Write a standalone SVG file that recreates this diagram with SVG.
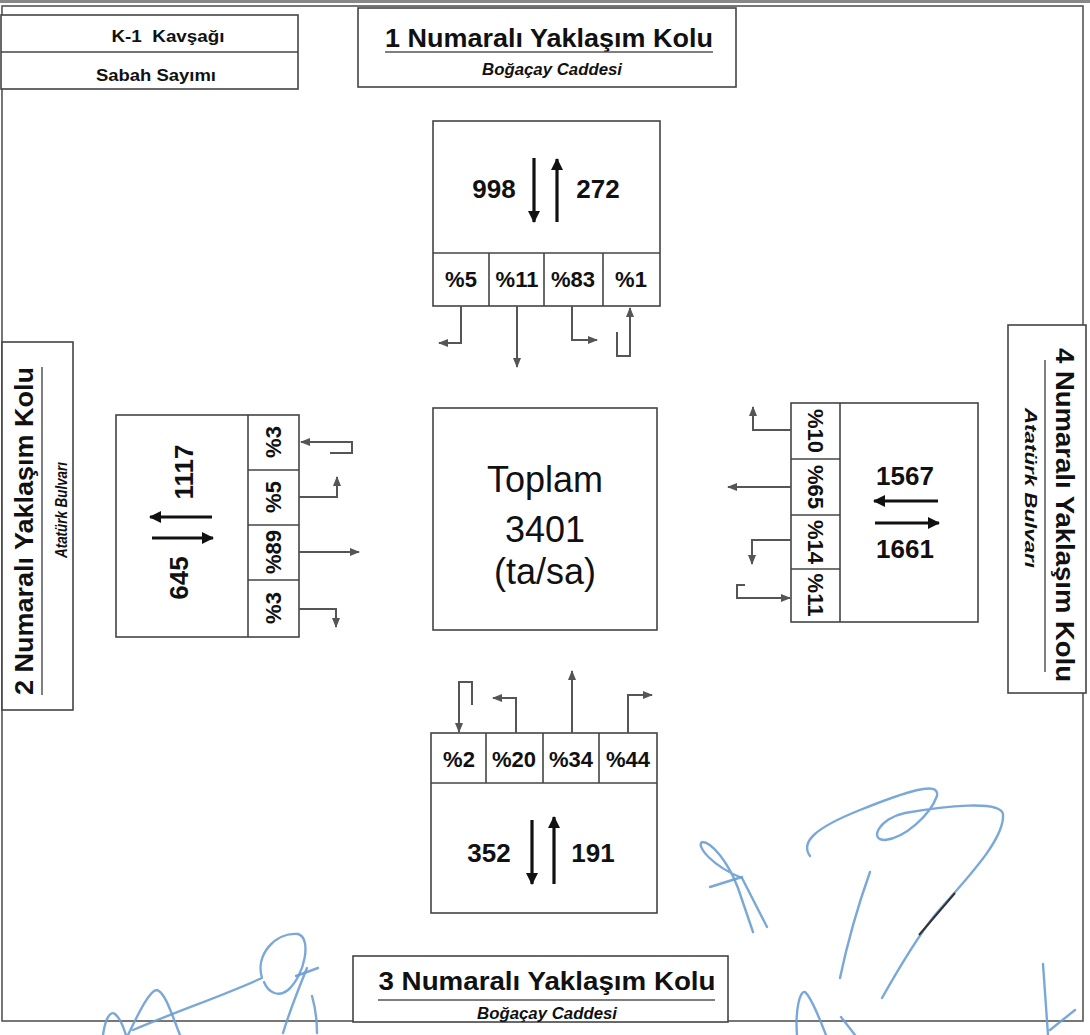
<svg xmlns="http://www.w3.org/2000/svg" width="1090" height="1035" viewBox="0 0 1090 1035">
<defs>
<style>
.box{fill:#fff;stroke:#444;stroke-width:1.6}
.frame{fill:none;stroke:#555;stroke-width:1.6}
.ttl{font-family:"Liberation Sans",Arial,sans-serif;font-weight:700;font-size:25px;fill:#111}
.sub{font-family:"Liberation Sans",Arial,sans-serif;font-weight:700;font-style:italic;font-size:17px;fill:#111}
.hdr{font-family:"Liberation Sans",Arial,sans-serif;font-weight:700;font-size:16px;fill:#111}
.pct{font-family:"Liberation Sans",Arial,sans-serif;font-weight:700;font-size:22px;fill:#111}
.num{font-family:"Liberation Sans",Arial,sans-serif;font-weight:700;font-size:26px;fill:#111}
.big{font-family:"Liberation Sans",Arial,sans-serif;font-size:36px;fill:#111}
.ul{stroke:#555;stroke-width:1.5}
.con{fill:none;stroke:#555;stroke-width:2;marker-end:url(#ah)}
.arr{fill:none;stroke:#111;stroke-width:3.2;marker-end:url(#ahb)}
.sig{fill:none;stroke:#6c9fd3;stroke-width:2.4;stroke-linecap:round;stroke-linejoin:round;opacity:0.9}
</style>
<marker id="ah" markerUnits="userSpaceOnUse" markerWidth="10" markerHeight="8" refX="9" refY="4" orient="auto"><path d="M0,0 L10,4 L0,8 z" fill="#555"/></marker>
<marker id="ahb" markerUnits="userSpaceOnUse" markerWidth="12" markerHeight="12" refX="11" refY="6" orient="auto"><path d="M0,0 L12,6 L0,12 z" fill="#111"/></marker>
</defs>
<rect width="1090" height="1035" fill="#fff"/>
<rect x="0" y="0" width="1090" height="3" fill="#888"/>
<rect class="frame" x="2" y="6" width="1081" height="1015"/>

<g id="header">
<rect class="box" x="1" y="15" width="297" height="74"/>
<line x1="1" y1="52" x2="298" y2="52" stroke="#444" stroke-width="1.6"/>
<text class="hdr" x="168" y="42" text-anchor="middle" textLength="113" lengthAdjust="spacingAndGlyphs" xml:space="preserve">K-1  Kavşağı</text>
<text class="hdr" x="156" y="81" text-anchor="middle" textLength="120" lengthAdjust="spacingAndGlyphs">Sabah Sayımı</text>
</g>

<g id="title1">
<rect class="box" x="358" y="8" width="378" height="79"/>
<text class="ttl" x="549" y="47" text-anchor="middle" textLength="328" lengthAdjust="spacingAndGlyphs">1 Numaralı Yaklaşım Kolu</text>
<line class="ul" x1="385" y1="52" x2="713" y2="52"/>
<text class="sub" x="552" y="75" text-anchor="middle" textLength="140" lengthAdjust="spacingAndGlyphs">Boğaçay Caddesi</text>
</g>

<g id="title2">
<rect class="box" x="2" y="342" width="71" height="368"/>
<text class="ttl" transform="translate(33,531) rotate(-90)" text-anchor="middle" textLength="328" lengthAdjust="spacingAndGlyphs">2 Numaralı Yaklaşım Kolu</text>
<line class="ul" x1="42" y1="367" x2="42" y2="695"/>
<text class="sub" transform="translate(67,510) rotate(-90)" text-anchor="middle" textLength="96" lengthAdjust="spacingAndGlyphs">Atatürk Bulvarı</text>
</g>

<g id="title3">
<rect class="box" x="353" y="956" width="375" height="66"/>
<text class="ttl" x="547" y="990" text-anchor="middle" textLength="337" lengthAdjust="spacingAndGlyphs">3 Numaralı Yaklaşım Kolu</text>
<line class="ul" x1="378" y1="1000" x2="715" y2="1000"/>
<text class="sub" x="547" y="1019" text-anchor="middle" textLength="140" lengthAdjust="spacingAndGlyphs">Boğaçay Caddesi</text>
</g>

<g id="title4">
<rect class="box" x="1008" y="325" width="78" height="368"/>
<text class="ttl" transform="translate(1056,515) rotate(90)" text-anchor="middle" textLength="334" lengthAdjust="spacingAndGlyphs">4 Numaralı Yaklaşım Kolu</text>
<line class="ul" x1="1045" y1="360" x2="1045" y2="672"/>
<text class="sub" transform="translate(1025,488) rotate(90)" text-anchor="middle" font-size="19" textLength="160" lengthAdjust="spacingAndGlyphs">Atatürk Bulvarı</text>
</g>

<g id="node1">
<rect class="box" x="433" y="121" width="227" height="185"/>
<line x1="433" y1="253" x2="660" y2="253" stroke="#444" stroke-width="1.6"/>
<line x1="489" y1="253" x2="489" y2="306" stroke="#444" stroke-width="1.6"/>
<line x1="544" y1="253" x2="544" y2="306" stroke="#444" stroke-width="1.6"/>
<line x1="603" y1="253" x2="603" y2="306" stroke="#444" stroke-width="1.6"/>
<text class="num" x="494" y="198" text-anchor="middle">998</text>
<text class="num" x="598" y="198" text-anchor="middle">272</text>
<path class="arr" d="M534,158 V222"/>
<path class="arr" d="M557,222 V159"/>
<text class="pct" x="461" y="287" text-anchor="middle">%5</text>
<text class="pct" x="517" y="287" text-anchor="middle">%11</text>
<text class="pct" x="573" y="287" text-anchor="middle">%83</text>
<text class="pct" x="631" y="287" text-anchor="middle">%1</text>
</g>

<g id="node2">
<rect class="box" x="116" y="415" width="183" height="222"/>
<line x1="248" y1="415" x2="248" y2="637" stroke="#444" stroke-width="1.6"/>
<line x1="248" y1="470" x2="299" y2="470" stroke="#444" stroke-width="1.6"/>
<line x1="248" y1="525" x2="299" y2="525" stroke="#444" stroke-width="1.6"/>
<line x1="248" y1="580" x2="299" y2="580" stroke="#444" stroke-width="1.6"/>
<text class="num" transform="translate(188,578) rotate(-90)" text-anchor="middle">645</text>
<text class="num" transform="translate(193,472) rotate(-90)" text-anchor="middle">1117</text>
<path class="arr" d="M212,517 H150"/>
<path class="arr" d="M152,538 H213"/>
<text class="pct" transform="translate(281,442) rotate(-90)" text-anchor="middle">%3</text>
<text class="pct" transform="translate(281,497) rotate(-90)" text-anchor="middle">%5</text>
<text class="pct" transform="translate(281,552) rotate(-90)" text-anchor="middle">%89</text>
<text class="pct" transform="translate(281,608) rotate(-90)" text-anchor="middle">%3</text>
</g>

<g id="center">
<rect class="box" x="433" y="408" width="224" height="222"/>
<text class="big" x="545" y="492" text-anchor="middle">Toplam</text>
<text class="big" x="545" y="542" text-anchor="middle">3401</text>
<text class="big" x="545" y="584" text-anchor="middle">(ta/sa)</text>
</g>

<g id="node4">
<rect class="box" x="791" y="403" width="187" height="219"/>
<line x1="840" y1="403" x2="840" y2="622" stroke="#444" stroke-width="1.6"/>
<line x1="791" y1="459" x2="840" y2="459" stroke="#444" stroke-width="1.6"/>
<line x1="791" y1="515" x2="840" y2="515" stroke="#444" stroke-width="1.6"/>
<line x1="791" y1="569" x2="840" y2="569" stroke="#444" stroke-width="1.6"/>
<text class="num" x="905" y="485" text-anchor="middle" font-size="25">1567</text>
<text class="num" x="905" y="558" text-anchor="middle" font-size="25">1661</text>
<path class="arr" d="M938,501 H874"/>
<path class="arr" d="M875,523 H939"/>
<text class="pct" transform="translate(808,431) rotate(90)" text-anchor="middle">%10</text>
<text class="pct" transform="translate(808,487) rotate(90)" text-anchor="middle">%65</text>
<text class="pct" transform="translate(808,542) rotate(90)" text-anchor="middle">%14</text>
<text class="pct" transform="translate(808,595) rotate(90)" text-anchor="middle">%11</text>
</g>

<g id="node3">
<rect class="box" x="431" y="733" width="226" height="180"/>
<line x1="431" y1="783" x2="657" y2="783" stroke="#444" stroke-width="1.6"/>
<line x1="486" y1="733" x2="486" y2="783" stroke="#444" stroke-width="1.6"/>
<line x1="543" y1="733" x2="543" y2="783" stroke="#444" stroke-width="1.6"/>
<line x1="599" y1="733" x2="599" y2="783" stroke="#444" stroke-width="1.6"/>
<text class="pct" x="459" y="767" text-anchor="middle">%2</text>
<text class="pct" x="514" y="767" text-anchor="middle">%20</text>
<text class="pct" x="571" y="767" text-anchor="middle">%34</text>
<text class="pct" x="628" y="767" text-anchor="middle">%44</text>
<text class="num" x="489" y="862" text-anchor="middle" font-size="25">352</text>
<text class="num" x="593" y="862" text-anchor="middle" font-size="25">191</text>
<path class="arr" d="M532,820 V884"/>
<path class="arr" d="M554,884 V817"/>
</g>

<g id="connectors">
<path class="con" d="M461,306 V343 H439"/>
<path class="con" d="M517,306 V367"/>
<path class="con" d="M572,306 V340 H597"/>
<path class="con" d="M617,332 V356 H630 V308"/>
<path class="con" d="M330,453 H352 V442 H301"/>
<path class="con" d="M299,497 H337 V477"/>
<path class="con" d="M299,552 H359"/>
<path class="con" d="M299,609 H336 V627"/>
<path class="con" d="M791,430 H753 V407"/>
<path class="con" d="M791,487 H728"/>
<path class="con" d="M791,540 H752 V564"/>
<path class="con" d="M745,585 H737 V598 H790"/>
<path class="con" d="M472,705 V682 H459 V732"/>
<path class="con" d="M516,733 V698 H493"/>
<path class="con" d="M572,733 V671"/>
<path class="con" d="M628,733 V695 H652"/>
</g>

<g id="signatures">
<path class="sig" d="M753,932 L738,888 C728,862 712,842 702,842 C696,846 712,866 742,878 L767,927"/>
<path class="sig" d="M710,887 L742,877"/>
<path class="sig" stroke="#7f9fb8" d="M810,856 C800,842 815,828 860,810 C905,792 940,780 937,796 C930,815 905,838 885,840 C868,840 880,818 905,813 C945,806 1000,800 1003,814 C1005,840 965,880 935,915 C915,940 895,975 882,998"/>
<path class="sig" stroke="#7f9fb8" d="M870,872 C860,900 848,940 840,978"/>
<path d="M955,893 L919,935" stroke="#333" stroke-width="2" fill="none"/>
<path class="sig" d="M797,1035 C795,1010 800,990 805,992 C812,998 820,1020 826,1035"/>
<path class="sig" d="M841,1017 L855,1035"/>
<path class="sig" d="M1043,964 L1048,1035"/>
<path class="sig" d="M1050,1030 L1075,1010"/>
<path class="sig" d="M103,1035 C105,1020 110,1010 115,1014 C122,1020 124,1030 126,1035"/>
<path class="sig" d="M128,1035 C140,1010 150,990 157,990 C165,992 172,1015 180,1035"/>
<path class="sig" d="M133,1030 C180,1010 225,995 262,978 C255,955 275,932 298,934 C312,938 305,975 288,990 C278,998 268,992 264,982"/>
<path class="sig" d="M296,976 L318,968"/>
<path class="sig" d="M307,968 C298,990 290,1010 283,1033"/>
<path class="sig" d="M312,996 C316,1010 317,1022 317,1033"/>
</g>
</svg>
